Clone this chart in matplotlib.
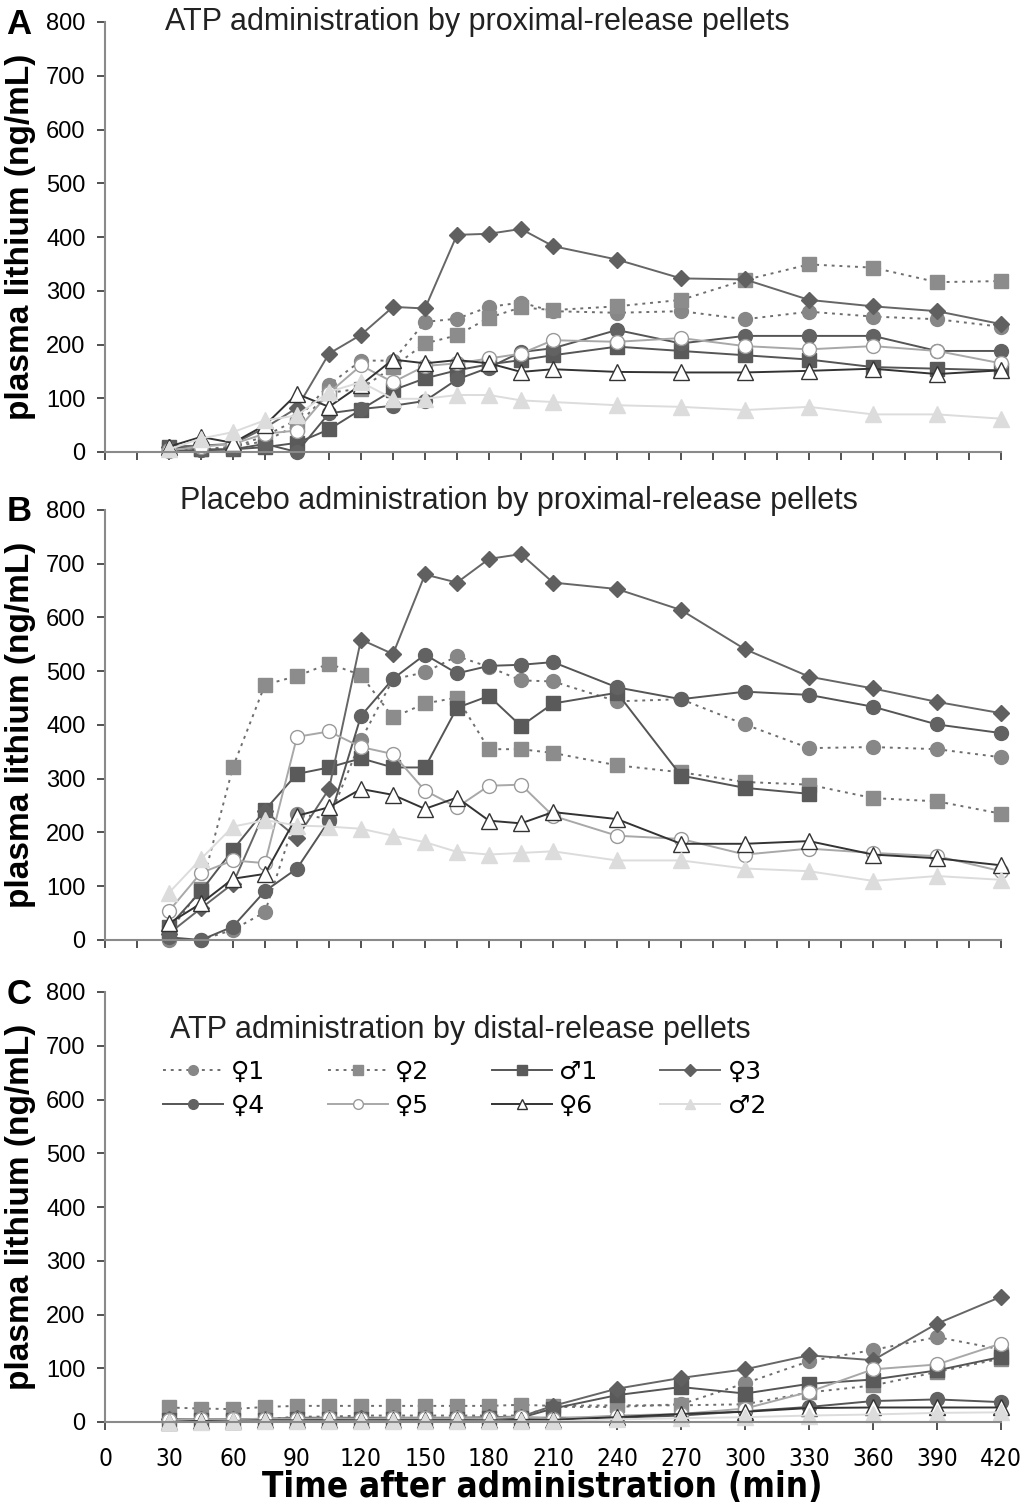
import matplotlib
matplotlib.use("Agg")
import matplotlib.pyplot as plt
from matplotlib import font_manager as fm
import numpy as np

nan = np.nan

# sampling times after administration (min)
times = [30, 45, 60, 75, 90, 105, 120, 135, 150, 165, 180, 195, 210,
         240, 270, 300, 330, 360, 390, 420]

subjects = ["♀1", "♀2", "♂1", "♀3", "♀4", "♀5", "♀6", "♂2"]

# A: ATP, proximal-release pellets (plasma lithium, ng/mL)
a_f1 = [2, 3, 8, 30, 60, 125, 170, 170, 242, 248, 270, 278, 262, 259, 262, 247, 261, 252, 247, 233]
a_f2 = [5, 5, 10, 20, 50, 110, 118, 158, 202, 217, 250, 269, 264, 271, 283, 320, 349, 343, 316, 318]
a_m1 = [10, 5, 5, 9, 17, 42, 79, 115, 137, 152, 163, 171, 180, 196, 188, 180, 172, 158, 155, 152]
a_f3 = [10, 12, 15, 45, 82, 183, 218, 270, 267, 404, 406, 415, 383, 358, 323, 321, 283, 271, 262, 238]
a_f4 = [3, 3, 5, 15, 0, 72, 80, 86, 95, 135, 157, 186, 193, 227, 202, 216, 216, 216, 188, 188]
a_f5 = [3, 10, 15, 34, 40, 110, 161, 130, 160, 165, 174, 183, 208, 205, 212, 197, 191, 197, 188, 165]
a_f6 = [10, 28, 17, 50, 108, 84, 125, 172, 165, 171, 165, 149, 154, 149, 148, 148, 151, 155, 145, 152]
a_m2 = [5, 25, 37, 59, 68, 112, 130, 99, 99, 106, 106, 96, 93, 87, 84, 78, 84, 70, 70, 62]

# B: placebo, proximal-release pellets
b_f1 = [0, 0, 19, 52, 235, 225, 372, 485, 498, 528, 508, 483, 481, 444, 448, 401, 357, 359, 355, 340]
b_f2 = [15, 95, 322, 475, 491, 514, 493, 414, 440, 451, 355, 355, 348, 325, 312, 294, 289, 264, 258, 235]
b_m1 = [25, 91, 168, 242, 309, 321, 338, 321, 321, 432, 454, 398, 440, 460, 306, 283, 272, nan, nan, nan]
b_f3 = [12, 59, 105, 240, 190, 281, 559, 532, 680, 665, 709, 718, 665, 653, 614, 541, 490, 468, 443, 422]
b_f4 = [5, 0, 25, 91, 133, 222, 417, 486, 531, 496, 510, 512, 517, 470, 448, 462, 456, 434, 401, 385]
b_f5 = [54, 125, 148, 143, 378, 388, 359, 346, 278, 247, 287, 289, 231, 194, 188, 159, 170, 162, 156, 128]
b_f6 = [31, 68, 114, 123, 231, 247, 281, 270, 244, 265, 222, 217, 238, 225, 179, 179, 184, 159, 152, 139]
b_m2 = [88, 151, 211, 223, 213, 211, 207, 194, 182, 164, 159, 162, 165, 148, 148, 133, 128, 110, 119, 112]

# C: ATP, distal-release pellets
c_f1 = [0, 0, 3, 5, 10, 10, 12, 12, 12, 12, 12, 12, 28, 28, 33, 72, 113, 134, 158, 135]
c_f2 = [27, 25, 24, 28, 30, 30, 30, 30, 30, 30, 30, 32, 30, 31, 31, 33, 55, 68, 93, 118]
c_m1 = [3, 3, 3, 4, 5, 5, 5, 5, 6, 6, 7, 8, 25, 50, 65, 53, 71, 79, 96, 121]
c_f3 = [5, 5, 5, 6, 8, 8, 8, 8, 8, 8, 9, 10, 30, 62, 82, 98, 124, 115, 183, 233]
c_f4 = [4, 4, 5, 5, 6, 6, 6, 6, 6, 6, 7, 8, 8, 8, 12, 20, 28, 39, 42, 37]
c_f5 = [3, 5, 5, 6, 6, 7, 6, 7, 7, 7, 7, 10, 6, 12, 15, 25, 56, 98, 107, 146]
c_f6 = [0, 2, 2, 3, 3, 3, 3, 3, 3, 3, 3, 4, 4, 9, 15, 19, 26, 27, 27, 27]
c_m2 = [0, 0, 1, 1, 1, 1, 1, 1, 1, 1, 1, 1, 1, 5, 7, 9, 12, 14, 17, 18]

panel_a = [a_f1, a_f2, a_m1, a_f3, a_f4, a_f5, a_f6, a_m2]
panel_b = [b_f1, b_f2, b_m1, b_f3, b_f4, b_f5, b_f6, b_m2]
panel_c = [c_f1, c_f2, c_m1, c_f3, c_f4, c_f5, c_f6, c_m2]

dot = (0, (1.5, 2.5))
styles = [
    dict(color="#6e6e6e", ls=dot, marker="o", mfc="#878787", mec="#878787", ms=10),
    dict(color="#6e6e6e", ls=dot, marker="s", mfc="#8c8c8c", mec="#8c8c8c", ms=9.5),
    dict(color="#555555", ls="-", marker="s", mfc="#5a5a5a", mec="#5a5a5a", ms=9.5),
    dict(color="#666666", ls="-", marker="D", mfc="#606060", mec="#606060", ms=8.5),
    dict(color="#555555", ls="-", marker="o", mfc="#626262", mec="#626262", ms=10),
    dict(color="#a8a8a8", ls="-", marker="o", mfc="white", mec="#9a9a9a", ms=10),
    dict(color="#333333", ls="-", marker="^", mfc="white", mec="#333333", ms=11),
    dict(color="#dcdcdc", ls="-", marker="^", mfc="#dcdcdc", mec="#dcdcdc", ms=11),
]


# a narrow face for the time axis, if one is installed
def narrow_font():
    fonts = fm.fontManager.ttflist
    if any(f.name == "Liberation Sans Narrow" for f in fonts):
        return dict(family="Liberation Sans Narrow"), 1.0
    if any(f.name == "DejaVu Sans" and "Condensed" in f.fname for f in fonts):
        return dict(family="DejaVu Sans", stretch="condensed"), 0.88
    return dict(family="Liberation Sans"), 0.82


narrow, nscale = narrow_font()
plt.rcParams["font.family"] = ["Liberation Sans", "DejaVu Sans"]

W, H = 1034, 1508
fig = plt.figure(figsize=(W / 100, H / 100), dpi=100)

left, right = 105, 1001
tops = [22, 510, 992]
panel_h = 430
letters = ["A", "B", "C"]
titles = ["ATP administration by proximal-release pellets",
          "Placebo administration by proximal-release pellets",
          "ATP administration by distal-release pellets"]
title_pos = [(165, 22), (180, 501), (170, 1030)]
panels = [panel_a, panel_b, panel_c]

axes = []
for i in range(3):
    ax = fig.add_axes([left / W, 1 - (tops[i] + panel_h) / H,
                       (right - left) / W, panel_h / H])
    lines = []
    for vals, st in zip(panels[i], styles):
        ln, = ax.plot(times, vals, lw=1.4, clip_on=False, **st)
        lines.append(ln)
    ax.set_xlim(0, 420)
    ax.set_ylim(0, 800)
    ax.set_yticks(range(0, 801, 100))
    for s in ["top", "right"]:
        ax.spines[s].set_visible(False)
    for s in ["left", "bottom"]:
        ax.spines[s].set_color("#8a8a8a")
        ax.spines[s].set_linewidth(1.5)
    ax.tick_params(axis="y", direction="out", length=6, width=1.2,
                   color="#333333", labelsize=17, pad=8)
    if i < 2:
        ax.set_xticks(range(0, 421, 15))
        ax.tick_params(axis="x", direction="out", length=6, width=1.2,
                       color="#333333", labelbottom=False)
    else:
        ax.set_xticks(range(0, 421, 30))
        ax.tick_params(axis="x", direction="out", length=6, width=1.2,
                       color="#333333", labelsize=20 * nscale, pad=12)
        for lab in ax.get_xticklabels():
            lab.set(**narrow)
    ax.set_ylabel("plasma lithium (ng/mL)", fontsize=24, fontweight="bold")
    ax.yaxis.set_label_coords(-0.077, 0.5)

    fig.text(19 / W, 1 - (tops[i] + 2) / H, letters[i], fontsize=25,
             fontweight="bold", ha="center", va="center")
    tx, ty = title_pos[i]
    fig.text(tx / W, 1 - ty / H, titles[i], fontsize=22, ha="left",
             va="center", color="#222222")
    axes.append((ax, lines))

# legend in the bottom panel, filled row by row
ax_c, lines_c = axes[2]
order = [0, 4, 1, 5, 2, 6, 3, 7]
ax_c.legend([lines_c[k] for k in order], [subjects[k] for k in order],
            ncol=4, loc="upper left", bbox_to_anchor=(0.04, 0.895),
            frameon=False, prop=dict(family="DejaVu Sans", size=18),
            handlelength=2.4, handletextpad=0.3, columnspacing=2.5,
            markerscale=0.7, labelspacing=0.4)

fig.text(542 / W, 1 - 1487 / H, "Time after administration (min)",
         fontsize=28.5 * nscale, fontweight="bold", ha="center", va="center",
         **narrow)

fig.savefig("out.png", dpi=100)
